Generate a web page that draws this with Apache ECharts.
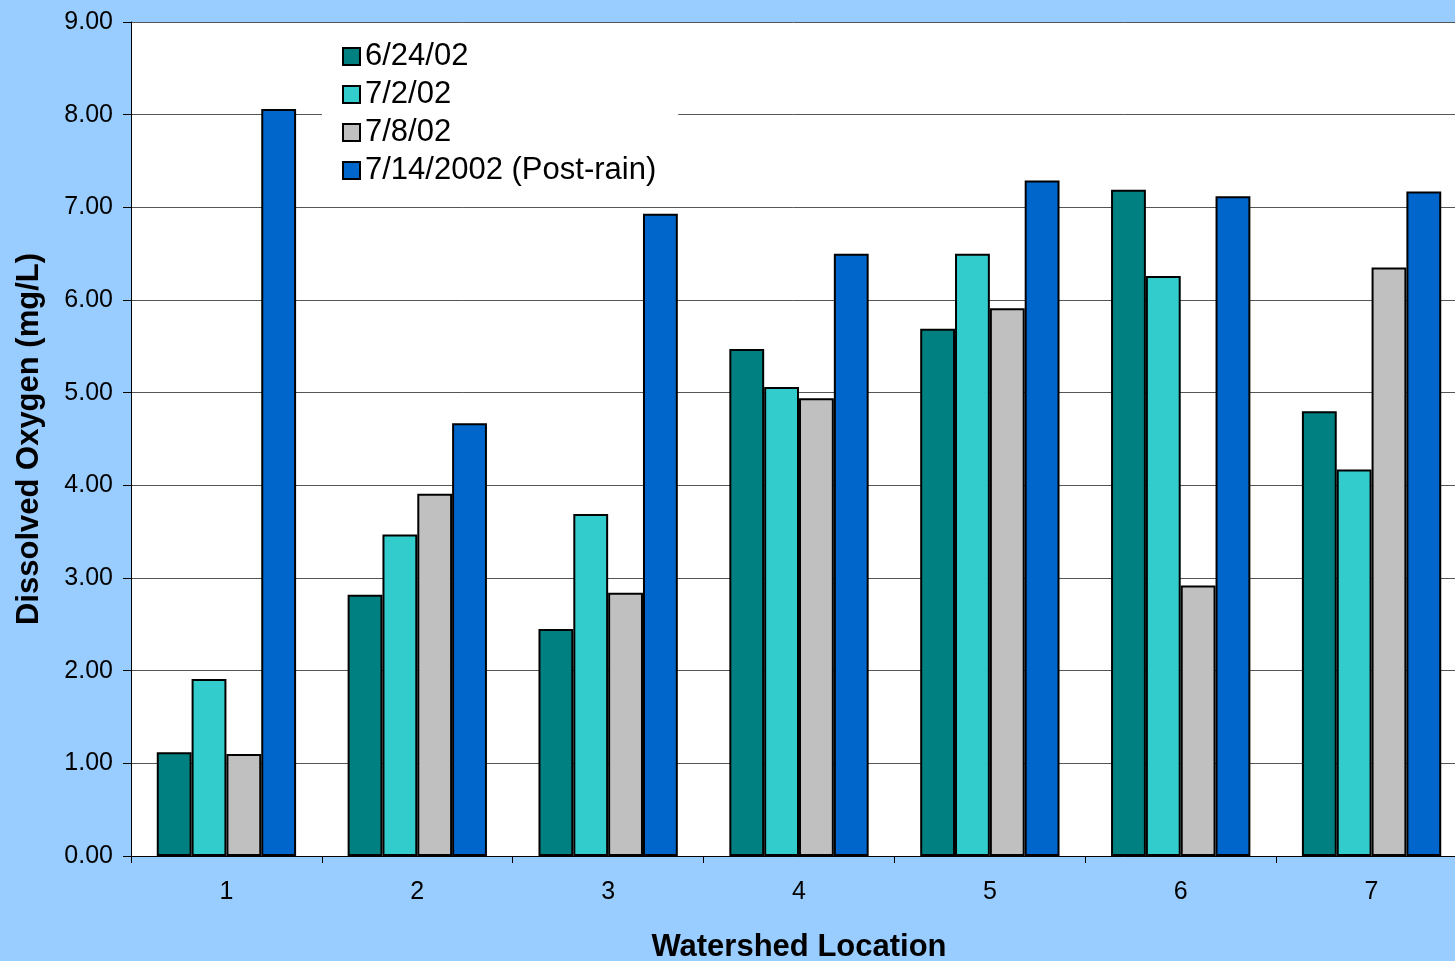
<!DOCTYPE html>
<html><head><meta charset="utf-8">
<script src="https://cdn.jsdelivr.net/npm/echarts@6/dist/echarts.min.js"></script>
<style>html,body{margin:0;padding:0;background:#99CCFF;}#c{width:1455px;height:961px;}</style>
</head><body><div id="c"></div>
<script>
const categories = ['1','2','3','4','5','6','7'];
const seriesNames = ['6/24/02','7/2/02','7/8/02','7/14/2002 (Post-rain)'];
const s0624 = [1.12, 2.82, 2.45, 5.47, 5.69, 7.19, 4.80];
const s0702 = [1.91, 3.47, 3.69, 5.06, 6.50, 6.26, 4.17];
const s0708 = [1.10, 3.91, 2.84, 4.94, 5.91, 2.92, 6.35];
const s0714 = [8.06, 4.67, 6.93, 6.50, 7.29, 7.12, 7.17];
const colors = ['#008080','#33CCCC','#C0C0C0','#0066CC'];
const values = [s0624, s0702, s0708, s0714];
const font = 'Liberation Sans, Arial, sans-serif';

const chart = echarts.init(document.getElementById('c'));
chart.setOption({
  backgroundColor: '#99CCFF',
  animation: false,
  textStyle: {fontFamily: font},
  grid: {left: 131, top: 22, right: -12, bottom: 105, show: true, backgroundColor: '#FFFFFF', borderWidth: 0,
         containLabel: false, outerBoundsMode: 'none'},
  legend: {
    orient: 'vertical', left: 322, top: 33,
    backgroundColor: '#FFFFFF',
    padding: [8, 22, 10, 20],
    itemWidth: 17, itemHeight: 17, itemGap: 7, itemTextGap: 16,
    icon: 'rect',
    textStyle: {fontSize: 31, color: '#000', fontFamily: font, lineHeight: 31},
    data: seriesNames
  },
  xAxis: {
    type: 'category', data: categories,
    name: 'Watershed Location', nameLocation: 'middle', nameGap: 76,
    nameTextStyle: {fontSize: 31, fontWeight: 'bold', color: '#000', fontFamily: font},
    axisLine: {lineStyle: {color: '#000', width: 1}},
    axisTick: {show: true, length: 7, lineStyle: {color: '#000'}},
    axisLabel: {fontSize: 25, color: '#000', margin: 24, fontFamily: font}
  },
  yAxis: {
    type: 'value', min: 0, max: 9, interval: 1,
    name: 'Dissolved Oxygen (mg/L)', nameLocation: 'middle', nameGap: 86,
    nameTextStyle: {fontSize: 31, fontWeight: 'bold', color: '#000', fontFamily: font},
    axisLine: {show: true, lineStyle: {color: '#000', width: 1}},
    axisTick: {show: true, length: 8, inside: false, lineStyle: {color: '#000'}},
    axisLabel: {fontSize: 25, color: '#000', margin: 18, fontFamily: font, formatter: v => v.toFixed(2)},
    splitLine: {show: true, lineStyle: {color: '#555', width: 1}}
  },
  series: values.map((d, i) => ({
    name: seriesNames[i], type: 'bar', data: d,
    barGap: '0%', barCategoryGap: '27%',
    itemStyle: {color: colors[i], borderColor: '#000', borderWidth: 2}
  }))
});
</script></body></html>
